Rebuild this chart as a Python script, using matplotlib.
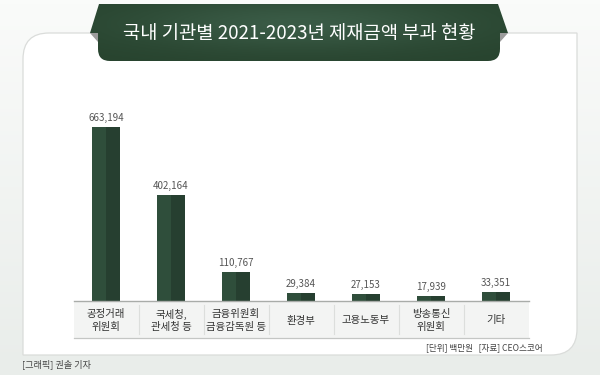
import matplotlib
matplotlib.use("Agg")
import matplotlib.pyplot as plt
import numpy as np
from matplotlib.path import Path
from matplotlib.patches import PathPatch, Polygon, Rectangle
from matplotlib.transforms import blended_transform_factory

plt.rcParams['font.family'] = ['Noto Sans CJK KR', 'DejaVu Sans']

# Data
categories = ["공정거래\n위원회", "국세청,\n관세청 등", "금융위원회\n금융감독원 등",
              "환경부", "고용노동부", "방송통신\n위원회", "기타"]
values = [663194, 402164, 110767, 29384, 27153, 17939, 33351]

TITLE = "국내 기관별 2021-2023년 제재금액 부과 현황"
SOURCE = "[단위] 백만원   [자료] CEO스코어"
CREDIT = "[그래픽] 권솔 기자"

# Palette
GREEN = "#2f4e3b"
GREEN_DK = "#263f30"
BANNER = "#2e4c39"
FOLD = "#9c9c9c"
TXT = "#333333"
VAL = "#555555"
BAND = "#f3f4f3"
LINE = "#a9aca9"

W, H = 600, 375
fig = plt.figure(figsize=(W / 100, H / 100), dpi=100)

# ── background layer in pixel coords ──────────────────────────────────────
bg = fig.add_axes([0, 0, 1, 1])
bg.set_xlim(0, W); bg.set_ylim(H, 0); bg.axis("off")
grad = np.linspace(0, 1, 100)[:, None]
bg.imshow(grad, extent=(0, W, H, 0), aspect="auto", zorder=0,
          cmap=matplotlib.colors.LinearSegmentedColormap.from_list(
              "bgc", ["#fafbfa", "#e9edea"]))

# card: top-left and bottom-right rounded
L, T, R, B, r = 23, 33, 577, 355, 26
verts = [(L + r, T), (R, T), (R, B - r), (R, B), (R - r, B), (L, B),
         (L, T + r), (L, T), (L + r, T), (L + r, T)]
codes = [Path.MOVETO, Path.LINETO, Path.LINETO, Path.CURVE3, Path.CURVE3,
         Path.LINETO, Path.LINETO, Path.CURVE3, Path.CURVE3, Path.CLOSEPOLY]
bg.add_patch(PathPatch(Path(verts, codes), fc="white", ec="#dadcda",
                       lw=0.9, zorder=1))

# title banner
br = 12
bverts = [(90, 33), (99, 4), (498, 4), (508, 33), (500, 33), (500, 61 - br),
          (500, 61), (500 - br, 61), (98 + br, 61), (98, 61), (98, 61 - br),
          (98, 33), (90, 33)]
bcodes = [Path.MOVETO, Path.LINETO, Path.LINETO, Path.LINETO, Path.LINETO,
          Path.LINETO, Path.CURVE3, Path.CURVE3, Path.LINETO, Path.CURVE3,
          Path.CURVE3, Path.LINETO, Path.CLOSEPOLY]
banner = PathPatch(Path(bverts, bcodes), fc="none", ec="none", zorder=3)
bg.add_patch(banner)
# soft radial-ish shading inside banner
gx = np.linspace(-1, 1, 200)[None, :]
gy = np.linspace(-1, 1, 40)[:, None]
shade = np.exp(-(gx ** 2) * 1.5 - (gy + 0.3) ** 2 * 1.2)
img = bg.imshow(shade, extent=(88, 510, 62, 3), aspect="auto", zorder=3,
                cmap=matplotlib.colors.LinearSegmentedColormap.from_list(
                    "ban", ["#28442f", "#3a5b46"]))
img.set_clip_path(banner)
bg.add_patch(Polygon([(90, 33), (98, 33), (98, 42)], fc=FOLD, ec="none", zorder=2))
bg.add_patch(Polygon([(508, 33), (500, 33), (500, 42)], fc=FOLD, ec="none", zorder=2))
bg.text(299, 34, TITLE, ha="center", va="center", fontsize=13.5,
        fontweight="medium", color="white", zorder=4)

bg.text(543, 348, SOURCE, ha="right", va="center", fontsize=6.2, color="#444444", zorder=4)
bg.text(22, 364, CREDIT, ha="left", va="center", fontsize=6.6, color="#444444", zorder=4)

# ── chart ─────────────────────────────────────────────────────────────────
x0, x1 = 73.5, 528.5
base, top = 301, 110
ax = fig.add_axes([x0 / W, 1 - base / H, (x1 - x0) / W, (base - top) / H])
ax.patch.set_alpha(0)
ax.axis("off")
n = len(categories)
x = np.arange(n)
ax.set_xlim(-0.5, n - 0.5)
ax.set_ylim(0, 728000)

bw = 0.43
ax.bar(x, values, width=bw, color=GREEN, zorder=3)
ax.bar(x + bw / 4, values, width=bw / 2, color=GREEN_DK, zorder=3)

for xi, v in zip(x, values):
    ax.annotate(f"{v:,}", (xi, v), xytext=(0, 3), textcoords="offset points",
                ha="center", va="bottom", fontsize=7, color=VAL)

# category band under the baseline
ph = base - top
tr = blended_transform_factory(ax.transData, ax.transAxes)
band_h = 37 / ph
ax.add_patch(Rectangle((-0.5, -band_h), n, band_h, transform=tr,
                       fc=BAND, ec="none", clip_on=False, zorder=1))
ax.plot([-0.5, n - 0.5], [0, 0], transform=tr, color=LINE, lw=1.0,
        clip_on=False, zorder=4)
ax.plot([-0.5, n - 0.5], [-band_h, -band_h], transform=tr, color="#c4c6c4",
        lw=0.9, clip_on=False, zorder=4)
for i in range(n - 1):
    ax.plot([i + 0.5, i + 0.5], [-4 / ph, -33 / ph], transform=tr,
            color="#dcdedc", lw=0.8, clip_on=False, zorder=2)
for xi, lab in zip(x, categories):
    ax.text(xi, -19.5 / ph, lab, transform=tr, ha="center", va="center",
            fontsize=7.5, color=TXT, linespacing=1.3)

fig.savefig("out.png", dpi=100)
